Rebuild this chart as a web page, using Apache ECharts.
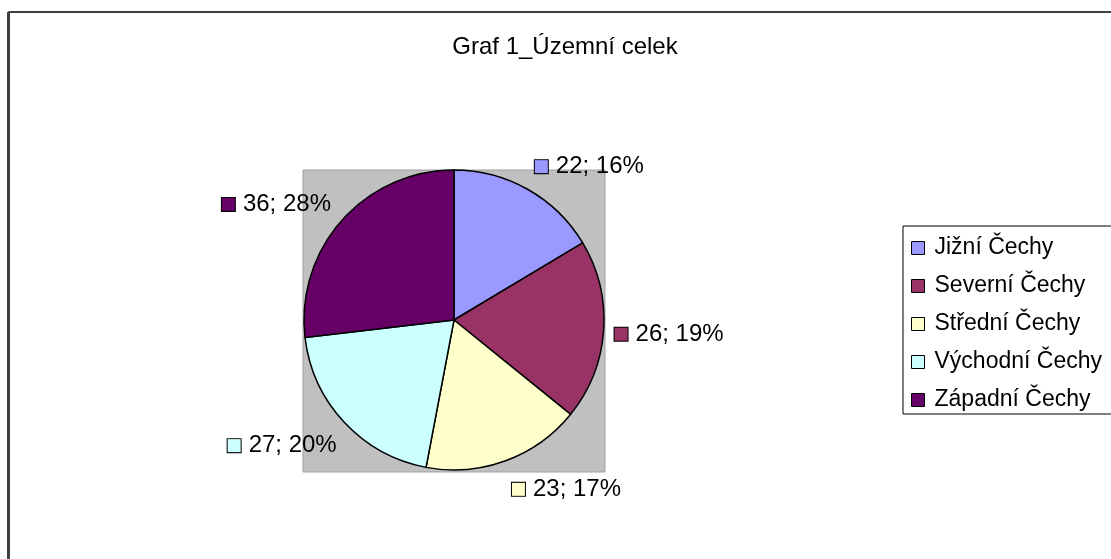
<!DOCTYPE html>
<html>
<head>
<meta charset="utf-8">
<script src="https://cdn.jsdelivr.net/npm/echarts@6/dist/echarts.min.js"></script>
<style>
  html, body { margin: 0; padding: 0; background: #fff; }
  #chart { width: 1111px; height: 559px; }
</style>
</head>
<body>
<div id="chart"></div>
<script>
var kategorie = ['Jižní Čechy', 'Severní Čechy', 'Střední Čechy', 'Východní Čechy', 'Západní Čechy'];
var hodnoty = [22, 26, 23, 27, 36];
var procenta = ['16%', '19%', '17%', '20%', '28%'];
var barvy = ['#9999FF', '#993366', '#FFFFCC', '#CCFFFF', '#660066'];

var stredX = 454, stredY = 320, polomer = 150;
var pismo = '"Liberation Sans", Arial, sans-serif';
// doladeni popisku (posun oproti automaticke poloze)
var posunX = [-10, -18, -7, 15, 12];
var posunY = [-2, 2, 6, 7, 0];

var data = [];
var rich = { t: { fontSize: 24, fontFamily: pismo, color: '#000', padding: [0, 0, 0, 8] } };
for (var i = 0; i < kategorie.length; i++) {
     data.push({ name: kategorie[i], value: hodnoty[i], itemStyle: { color: barvy[i] } });
     rich['b' + i] = {
          width: 13,
          height: 13,
          backgroundColor: barvy[i],
          borderColor: '#000',
          borderWidth: 1
     };
}

var chart = echarts.init(document.getElementById('chart'));

chart.setOption({
     animation: false,
     title: {
          text: 'Graf 1_Územní celek',
          left: 560,
          top: 30,
          textAlign: 'center',
          textStyle: { fontFamily: pismo, fontSize: 24, fontWeight: 'normal', color: '#000' }
     },
     legend: {
          orient: 'vertical',
          left: 903,
          top: 226,
          icon: 'rect',
          itemWidth: 13,
          itemHeight: 13,
          itemGap: 14,
          padding: [10, 12, 2, 8],
          borderColor: '#000',
          borderWidth: 1,
          borderRadius: 0,
          itemStyle: { borderColor: '#000', borderWidth: 1 },
          textStyle: { fontFamily: pismo, fontSize: 23, color: '#000', lineHeight: 24, padding: [0, 0, 0, 5] },
          data: kategorie
     },
     graphic: [
          {
               type: 'rect',
               z: 0,
               shape: { x: 9, y: 12, width: 1200, height: 700 },
               style: { fill: '#fff', stroke: '#000', lineWidth: 1.5 }
          },
          {
               type: 'rect',
               z: 0,
               shape: { x: 7, y: 12, width: 3, height: 700 },
               style: { fill: '#404040' }
          },
          {
               type: 'rect',
               z: 1,
               shape: { x: stredX - polomer - 1, y: stredY - polomer, width: polomer * 2 + 2, height: polomer * 2 + 2 },
               style: { fill: '#C0C0C0', stroke: '#A0A0A0', lineWidth: 1 }
          }
     ],
     series: [{
          type: 'pie',
          center: [stredX, stredY],
          radius: [0, polomer],
          startAngle: 90,
          clockwise: true,
          avoidLabelOverlap: false,
          emphasis: { disabled: true },
          itemStyle: { borderColor: '#000', borderWidth: 1.5 },
          label: {
               show: true,
               position: 'outside',
               formatter: function (p) {
                    return '{b' + p.dataIndex + '|}{t|' + p.value + '; ' + procenta[p.dataIndex] + '}';
               },
               rich: rich
          },
          labelLine: { show: false, length: 24, length2: 0 },
          labelLayout: function (p) {
               return { dx: posunX[p.dataIndex], dy: posunY[p.dataIndex] };
          },
          data: data
     }]
});
</script>
</body>
</html>
